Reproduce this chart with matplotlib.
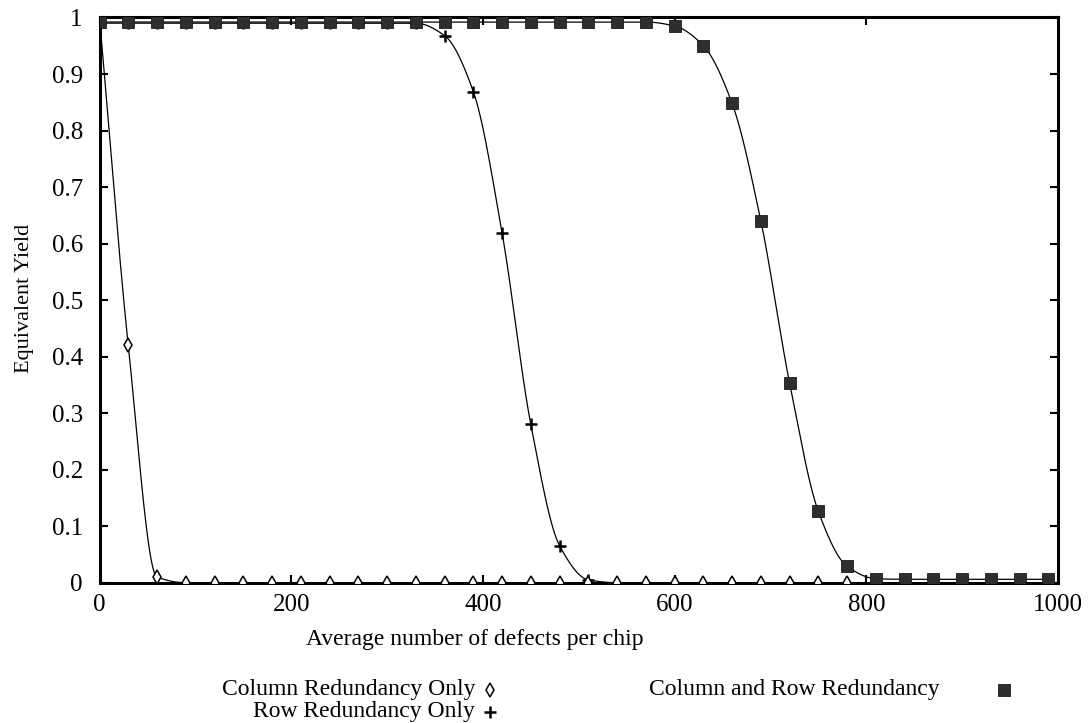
import numpy as np
import matplotlib
matplotlib.use("Agg")
import matplotlib.pyplot as plt
from matplotlib.lines import Line2D

plt.rcParams['font.family'] = ['Liberation Serif', 'DejaVu Serif']

# Average number of defects per chip (sample points)
defects = [0, 30, 60, 90, 120, 150, 180, 210, 240, 270, 300, 330,
           360, 390, 420, 450, 480, 510, 540, 570, 600, 630, 660, 690,
           720, 750, 780, 810, 840, 870, 900, 930, 960, 990]

# Equivalent yield for each redundancy scheme
column_only = [1.0, 0.42, 0.01, 0.0, 0.0, 0.0, 0.0, 0.0, 0.0, 0.0, 0.0, 0.0,
               0.0, 0.0, 0.0, 0.0, 0.0, 0.0, 0.0, 0.0, 0.0, 0.0, 0.0, 0.0,
               0.0, 0.0, 0.0, 0.0, 0.0, 0.0, 0.0, 0.0, 0.0, 0.0]
row_only = [0.99, 0.99, 0.99, 0.99, 0.99, 0.99, 0.99, 0.99, 0.99, 0.99, 0.99, 0.99,
            0.968, 0.869, 0.619, 0.280, 0.0655, 0.005, 0.0, 0.0, 0.0, 0.0, 0.0, 0.0,
            0.0, 0.0, 0.0, 0.0, 0.0, 0.0, 0.0, 0.0, 0.0, 0.0]
column_and_row = [0.992, 0.992, 0.992, 0.992, 0.992, 0.992, 0.992, 0.992, 0.992, 0.992,
                  0.992, 0.992, 0.992, 0.992, 0.992, 0.992, 0.992, 0.992, 0.992, 0.992,
                  0.985, 0.950, 0.848, 0.640, 0.353, 0.126, 0.029, 0.007,
                  0.006, 0.006, 0.006, 0.006, 0.006, 0.006]

x_ticks = [0, 200, 400, 600, 800, 1000]
y_ticks = [0, 0.1, 0.2, 0.3, 0.4, 0.5, 0.6, 0.7, 0.8, 0.9, 1]
y_tick_labels = ['0', '0.1', '0.2', '0.3', '0.4', '0.5', '0.6', '0.7', '0.8', '0.9', '1']


def pchip(x, y, xs):
    """Monotone cubic (Fritsch-Carlson) curve through the points."""
    x = np.asarray(x, float)
    y = np.asarray(y, float)
    h = np.diff(x)
    d = np.diff(y) / h
    m = np.zeros_like(y)
    for k in range(1, len(x) - 1):
        if d[k - 1] * d[k] > 0:
            w1 = 2 * h[k] + h[k - 1]
            w2 = h[k] + 2 * h[k - 1]
            m[k] = (w1 + w2) / (w1 / d[k - 1] + w2 / d[k])
    m[0] = d[0]
    m[-1] = d[-1]
    idx = np.clip(np.searchsorted(x, xs) - 1, 0, len(x) - 2)
    t = (xs - x[idx]) / h[idx]
    h00 = 2 * t**3 - 3 * t**2 + 1
    h10 = t**3 - 2 * t**2 + t
    h01 = -2 * t**3 + 3 * t**2
    h11 = t**3 - t**2
    return (h00 * y[idx] + h10 * h[idx] * m[idx]
            + h01 * y[idx + 1] + h11 * h[idx] * m[idx + 1])


fig = plt.figure(figsize=(10.92, 7.23), dpi=100)
W, H = 1092, 723
ax = fig.add_axes([99.5 / W, 1 - 582.7 / H, (1058 - 99.5) / W, (582.7 - 17.5) / H])

xs = np.linspace(defects[0], defects[-1], 2000)

ax.plot(xs, pchip(defects, column_and_row, xs), color='black', lw=0.9, zorder=2)
ax.plot(xs, pchip(defects, row_only, xs), color='black', lw=0.9, zorder=2)
ax.plot(xs, pchip(defects, column_only, xs), color='black', lw=0.9, zorder=2)

ax.plot(defects, row_only, ls='none', marker='+', ms=9,
        mec='black', mew=1.8, zorder=3)
ax.plot(defects, column_only, ls='none', marker='d', ms=7.5,
        mfc='white', mec='black', mew=1.1, zorder=4)
ax.plot(defects, column_and_row, ls='none', marker='s', ms=8.8,
        mfc='#2e2e2e', mec='#1a1a1a', mew=0.6, zorder=5)

ax.set_xlim(0, 1000)
ax.set_ylim(0, 1)
ax.set_xticks(x_ticks)
ax.set_xticklabels([str(v) for v in x_ticks])
ax.set_yticks(y_ticks)
ax.set_yticklabels(y_tick_labels)
ax.tick_params(direction='in', length=6, width=1.5, top=True, right=True,
               labelsize=18)
ax.tick_params(axis='y', pad=12)
ax.tick_params(axis='x', pad=8)
for s in ax.spines.values():
    s.set_linewidth(2.2)

fig.text(24 / W, 1 - 298 / H, 'Equivalent Yield', rotation=90,
         ha='center', va='center', fontsize=16)
fig.text(475 / W, 1 - 640 / H, 'Average number of defects per chip',
         ha='center', va='center', fontsize=17)

# Key below the plot
key = [
    ('Column Redundancy Only', 475, 690, 490,
     dict(marker='d', ms=7.5, mfc='white', mec='black', mew=1.1)),
    ('Row Redundancy Only', 475, 712, 490,
     dict(marker='+', ms=9, mec='black', mew=1.8)),
    ('Column and Row Redundancy', 940, 690, 1004,
     dict(marker='s', ms=8.5, mfc='#2e2e2e', mec='#1a1a1a', mew=0.6)),
]
for label, tx, ty, mx, style in key:
    fig.text(tx / W, 1 - ty / H, label, ha='right', va='center', fontsize=17)
    fig.add_artist(Line2D([mx / W], [1 - ty / H], transform=fig.transFigure,
                          ls='none', **style))

fig.savefig('out.png', dpi=100)
